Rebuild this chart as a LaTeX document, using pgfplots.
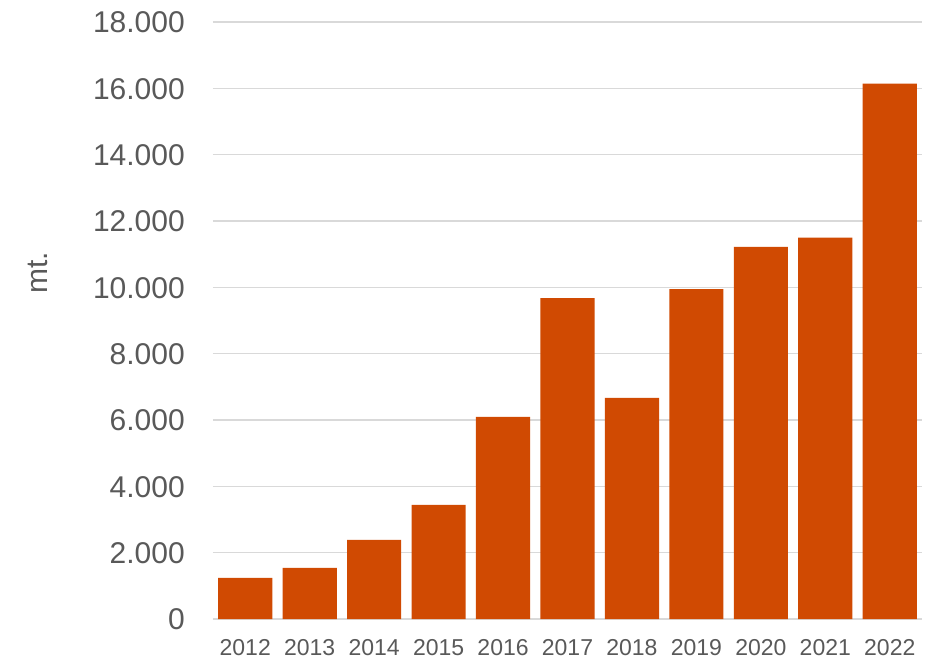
\documentclass[border=0pt]{standalone}
\usepackage{fontspec}
\setmainfont{Liberation Sans}
\usepackage{pgfplots}
\pgfplotsset{compat=1.18}
\definecolor{barc}{RGB}{208,74,2}
\definecolor{txt}{RGB}{89,89,89}
\definecolor{grd}{RGB}{217,217,217}
\begin{document}
\begin{tikzpicture}
\useasboundingbox (-213pt,-40pt) rectangle (714pt,619pt);
\begin{axis}[
  scale only axis, width=709pt, height=597pt,
  xmin=-0.5, xmax=10.5, ymin=0, ymax=18000,
  xtick={0,1,...,10},
  xticklabels={2012,2013,2014,2015,2016,2017,2018,2019,2020,2021,2022},
  ytick={0,2000,...,18000},
  scaled y ticks=false,
  /pgf/number format/1000 sep={.},
  /pgf/number format/assume math mode=true,
  axis line style={draw=none},
  tick style={draw=none},
  ymajorgrids,
  grid style={grd, line width=1.6pt},
  xticklabel style={font=\fontsize{23}{28}\selectfont, text=txt, anchor=base, inner sep=0pt, yshift=-36pt},
  yticklabel style={font=\fontsize{30}{36}\selectfont, text=txt, anchor=base east, inner sep=0pt, xshift=-28pt, yshift=-10.7pt},
  ylabel={mt.},
  ylabel style={font=\fontsize{30}{36}\selectfont, text=txt, at={(axis description cs:-0.2468,0.58)}, anchor=center, rotate=0},
]
\addplot[ybar, fill=barc, draw=none, bar width=0.84] coordinates {
(0,1240) (1,1540) (2,2385) (3,3440) (4,6095) (5,9675) (6,6665) (7,9945) (8,11220) (9,11495) (10,16140)
};
\end{axis}
\end{tikzpicture}
\end{document}
